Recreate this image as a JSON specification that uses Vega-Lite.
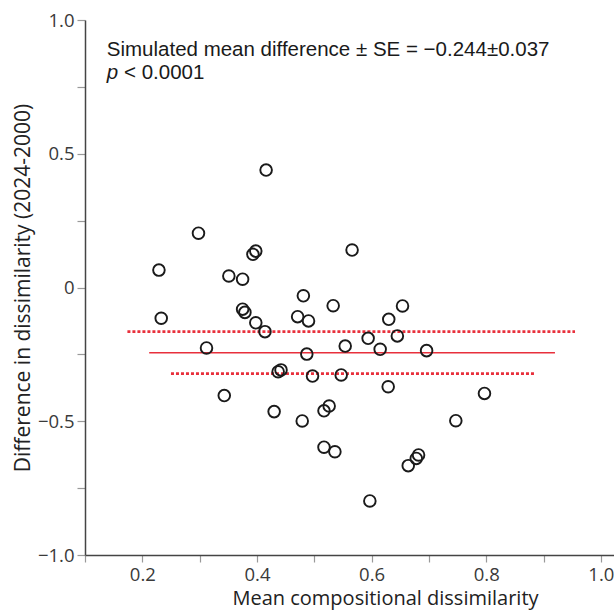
{
  "$schema": "https://vega.github.io/schema/vega-lite/v6.json",
  "width": 529,
  "height": 535,
  "autosize": "none",
  "padding": {"left": 85, "top": 20, "right": 0, "bottom": 59},
  "background": "white",
  "config": {
    "view": {"stroke": null},
    "axis": {
      "labelFont": "Open Sans",
      "titleFont": "Open Sans",
      "labelFontSize": 18.5,
      "titleFontSize": 20,
      "titleFontWeight": "normal",
      "labelColor": "#3a3a3a",
      "titleColor": "#222",
      "domainColor": "#444",
      "domainWidth": 1.5,
      "tickColor": "#999",
      "tickWidth": 1.2,
      "tickSize": 8,
      "grid": false
    }
  },
  "datasets": {
    "pts": [
      {"m": 0.229, "d": 0.065}, {"m": 0.233, "d": -0.115}, {"m": 0.298, "d": 0.203},
      {"m": 0.312, "d": -0.226}, {"m": 0.343, "d": -0.404}, {"m": 0.351, "d": 0.043},
      {"m": 0.375, "d": 0.031}, {"m": 0.393, "d": 0.124}, {"m": 0.398, "d": 0.136},
      {"m": 0.416, "d": 0.439}, {"m": 0.375, "d": -0.081}, {"m": 0.379, "d": -0.093},
      {"m": 0.398, "d": -0.132}, {"m": 0.414, "d": -0.165}, {"m": 0.437, "d": -0.315},
      {"m": 0.442, "d": -0.308}, {"m": 0.430, "d": -0.464}, {"m": 0.481, "d": -0.031},
      {"m": 0.471, "d": -0.109}, {"m": 0.490, "d": -0.125}, {"m": 0.487, "d": -0.249},
      {"m": 0.497, "d": -0.331}, {"m": 0.479, "d": -0.499}, {"m": 0.517, "d": -0.461},
      {"m": 0.526, "d": -0.443}, {"m": 0.517, "d": -0.597}, {"m": 0.536, "d": -0.614},
      {"m": 0.533, "d": -0.068}, {"m": 0.547, "d": -0.327}, {"m": 0.554, "d": -0.219},
      {"m": 0.566, "d": 0.140}, {"m": 0.594, "d": -0.190}, {"m": 0.597, "d": -0.798},
      {"m": 0.615, "d": -0.231}, {"m": 0.630, "d": -0.119}, {"m": 0.629, "d": -0.371},
      {"m": 0.645, "d": -0.181}, {"m": 0.654, "d": -0.069}, {"m": 0.664, "d": -0.666},
      {"m": 0.678, "d": -0.639}, {"m": 0.682, "d": -0.626}, {"m": 0.696, "d": -0.236},
      {"m": 0.747, "d": -0.498}, {"m": 0.797, "d": -0.396}
    ],
    "mean": [{"x1": 0.212, "x2": 0.920, "y": -0.244}],
    "ci": [
      {"x1": 0.174, "x2": 0.955, "y": -0.165},
      {"x1": 0.250, "x2": 0.884, "y": -0.322}
    ],
    "notes": [
      {"tx": 0.138, "ty": 0.888, "label": "Simulated mean difference ± SE = −0.244±0.037"},
      {"tx": 0.168, "ty": 0.802, "label": "< 0.0001"}
    ],
    "pnote": [
      {"tx": 0.138, "ty": 0.802, "label": "p"}
    ]
  },
  "layer": [
    {
      "mark": {"type": "rule", "color": "#444", "strokeWidth": 1.5},
      "encoding": {
        "y": {"datum": 1, "type": "quantitative", "scale": {"domain": [-1, 1]}}
      }
    },
    {
      "data": {"name": "ci"},
      "mark": {"type": "rule", "color": "#e8303c", "strokeWidth": 2.6, "strokeDash": [3, 2]},
      "encoding": {
        "x": {"field": "x1", "type": "quantitative"},
        "x2": {"field": "x2"},
        "y": {"field": "y", "type": "quantitative"}
      }
    },
    {
      "data": {"name": "mean"},
      "mark": {"type": "rule", "color": "#e8303c", "strokeWidth": 1.5},
      "encoding": {
        "x": {"field": "x1", "type": "quantitative"},
        "x2": {"field": "x2"},
        "y": {"field": "y", "type": "quantitative"}
      }
    },
    {
      "data": {"name": "pts"},
      "mark": {"type": "point", "shape": "circle", "filled": false, "size": 135, "stroke": "#1a1a1a", "strokeWidth": 1.9, "opacity": 1},
      "encoding": {
        "x": {
          "field": "m", "type": "quantitative",
          "scale": {"domain": [0.1, 1.023], "nice": false, "zero": false},
          "axis": {
            "title": "Mean compositional dissimilarity",
            "values": [0.1, 0.2, 0.3, 0.4, 0.5, 0.6, 0.7, 0.8, 0.9, 1.0],
            "labelExpr": "round(datum.value * 10) % 2 == 0 ? format(datum.value, '.1f') : ''",
            "labelPadding": 3,
            "titlePadding": 5,
            "titleX": 300,
            "tickSize": 7
          }
        },
        "y": {
          "field": "d", "type": "quantitative",
          "scale": {"domain": [-1, 1], "nice": false, "zero": false},
          "axis": {
            "title": "Difference in dissimilarity (2024-2000)",
            "titleFontSize": 21,
            "values": [-1, -0.75, -0.5, -0.25, 0, 0.25, 0.5, 0.75, 1],
            "labelExpr": "abs(datum.value * 2 - round(datum.value * 2)) < 0.001 ? (datum.value == 0 ? '0' : replace(format(datum.value, '.1f'), '-', '−')) : ''",
            "labelPadding": 3,
            "titlePadding": 4
          }
        }
      }
    },
    {
      "data": {"name": "notes"},
      "mark": {"type": "text", "align": "left", "baseline": "middle", "font": "Liberation Sans", "fontSize": 20.5, "color": "#1a1a1a"},
      "encoding": {
        "x": {"field": "tx", "type": "quantitative"},
        "y": {"field": "ty", "type": "quantitative"},
        "text": {"field": "label"}
      }
    },
    {
      "data": {"name": "pnote"},
      "mark": {"type": "text", "align": "left", "baseline": "middle", "font": "Liberation Sans", "fontSize": 20.5, "fontStyle": "italic", "color": "#1a1a1a"},
      "encoding": {
        "x": {"field": "tx", "type": "quantitative"},
        "y": {"field": "ty", "type": "quantitative"},
        "text": {"field": "label"}
      }
    }
  ]
}
